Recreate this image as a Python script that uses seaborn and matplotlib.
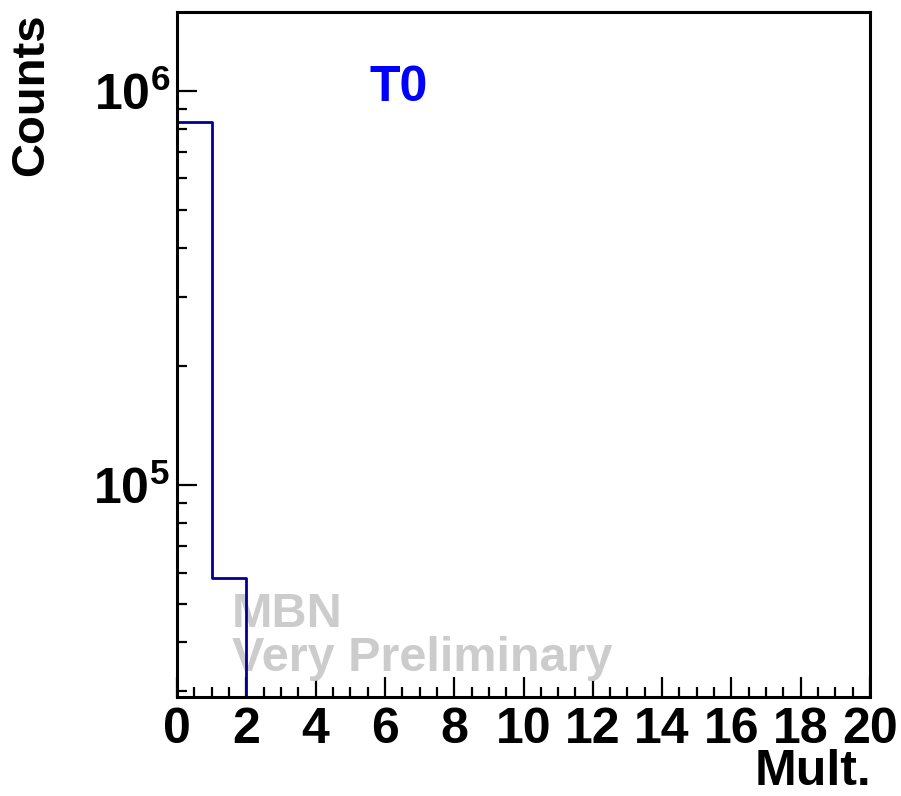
import numpy as np
import pandas as pd
import seaborn as sns
import matplotlib
matplotlib.use("Agg")
import matplotlib.pyplot as plt
from matplotlib.ticker import MultipleLocator, LogLocator, NullFormatter

# multiplicity bins (lower edge) and counts
mult = [0, 1, 2, 3, 4, 5, 6, 7, 8, 9, 10, 11, 12, 13, 14, 15, 16, 17, 18, 19]
counts = [831700, 58000, 2500, 0, 0, 0, 0, 0, 0, 0, 0, 0, 0, 0, 0, 0, 0, 0, 0, 0]
bin_edges = list(range(0, 21))

df = pd.DataFrame({"mult": mult, "counts": counts})

sns.set_theme(style="ticks")
plt.rcParams["font.family"] = ["Liberation Sans", "DejaVu Sans"]
plt.rcParams["font.weight"] = "bold"
plt.rcParams["mathtext.fontset"] = "custom"
plt.rcParams["mathtext.bf"] = "Liberation Sans:bold"
plt.rcParams["mathtext.rm"] = "Liberation Sans:bold"
for key in ["text.color", "axes.labelcolor", "xtick.color", "ytick.color",
            "xtick.labelcolor", "ytick.labelcolor"]:
    plt.rcParams[key] = "black"

fig = plt.figure(figsize=(9.01, 7.96), dpi=100)
ax = fig.add_axes([177 / 901, 1 - 697 / 796, 693 / 901, 685 / 796])

sns.histplot(data=df, x="mult", weights="counts", bins=bin_edges, element="step",
             fill=False, color="#000099", linewidth=2.0, ax=ax, zorder=2)
ax.set_yscale("log")
ax.set_xlim(0, 20)
ax.set_ylim(2.90e4, 1.586e6)

for s in ax.spines.values():
    s.set_linewidth(2.2)
    s.set_color("black")

ax.xaxis.set_major_locator(MultipleLocator(2))
ax.xaxis.set_minor_locator(MultipleLocator(0.5))
ax.set_yticks([1e5, 1e6])
ax.set_yticklabels([r"$\mathbf{10^{5}}$", r"$\mathbf{10^{6}}$"])
ax.yaxis.set_minor_locator(LogLocator(base=10, subs=np.arange(2, 10)))
ax.yaxis.set_minor_formatter(NullFormatter())

ax.tick_params(axis="both", which="major", direction="in", length=14.4, width=1.6,
               labelsize=36, color="black", labelcolor="black")
ax.tick_params(axis="both", which="minor", direction="in", length=7.2, width=1.6,
               color="black")
ax.tick_params(axis="x", which="major", pad=7)
ax.tick_params(axis="y", which="major", pad=5)
for lab in ax.get_xticklabels() + ax.get_yticklabels():
    lab.set_fontweight("bold")

ax.set_xlabel("")
ax.set_ylabel("")
fig.text(871 / 901, 1 - 785 / 796, "Mult.", ha="right", va="baseline",
         fontsize=36, fontweight="bold", color="black")
fig.text(53 / 901, 1 - 13 / 796, "Counts", ha="right", va="top", rotation=90,
         fontsize=34, fontweight="bold", color="black")

ax.text(0.278, 0.870, "T0", transform=ax.transAxes, color="#0000ff",
        fontsize=36, fontweight="bold", ha="left", va="baseline")
ax.text(0.0794, 0.102, "MBN", transform=ax.transAxes, color="#cccccc",
        fontsize=35, fontweight="bold", ha="left", va="baseline", zorder=1)
ax.text(0.0794, 0.038, "Very Preliminary", transform=ax.transAxes, color="#cccccc",
        fontsize=35, fontweight="bold", ha="left", va="baseline", zorder=1)

fig.savefig("out.png", dpi=100)
